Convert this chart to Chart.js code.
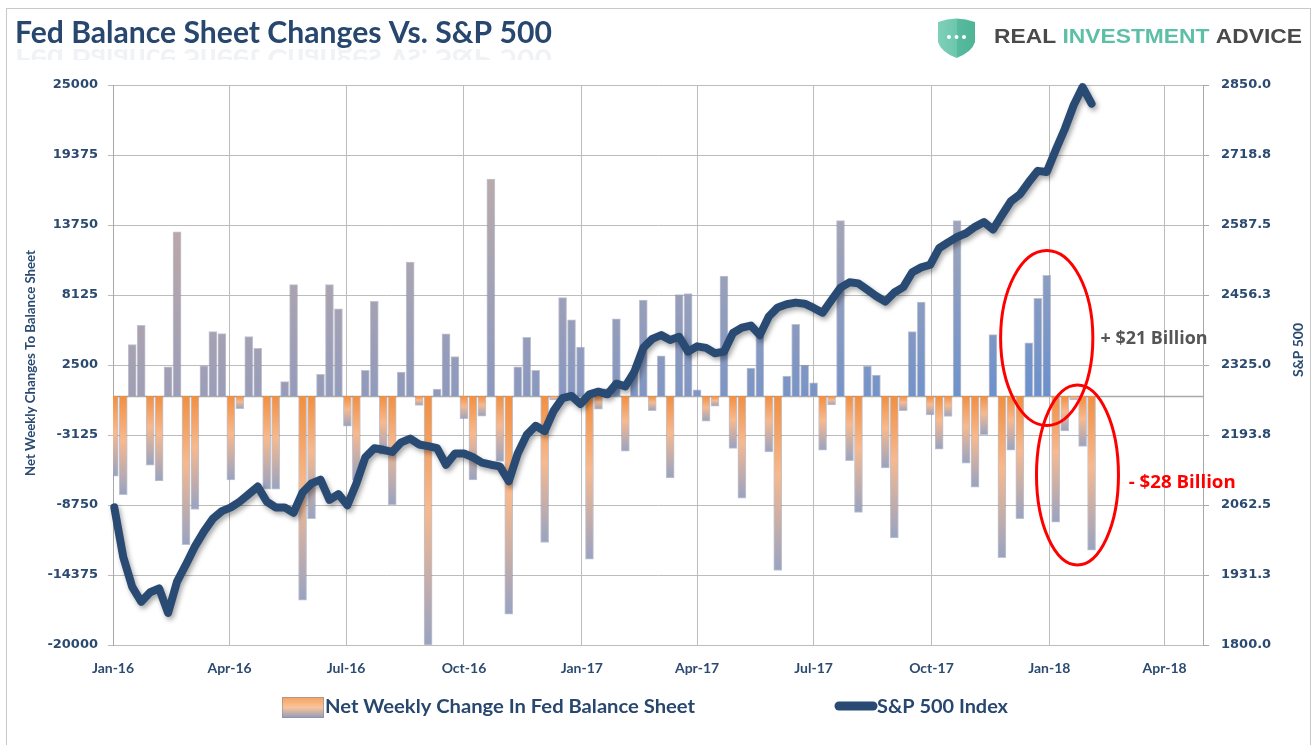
<!DOCTYPE html>
<html>
<head>
<meta charset="utf-8">
<title>Fed Balance Sheet Changes Vs. S&amp;P 500</title>
<script src="https://cdn.jsdelivr.net/npm/chart.js@4.4.1/dist/chart.umd.min.js"></script>
<style>
  html, body { margin: 0; padding: 0; background: #ffffff; }
  #wrap { width: 1315px; height: 745px; }
</style>
</head>
<body>
<div id="wrap"><canvas id="fedChart" width="1315" height="745"></canvas></div>
<script>
// Quarter ticks on the x axis (days counted from Jan 1, 2016)
const quarterLabels = ['Jan-16', 'Apr-16', 'Jul-16', 'Oct-16', 'Jan-17', 'Apr-17', 'Jul-17', 'Oct-17', 'Jan-18', 'Apr-18'];
const quarterDays = [0, 91, 182, 274, 366, 456, 547, 639, 731, 821];

// Net weekly change in the Fed balance sheet ($ millions), one value per week from Jan 2016
const netWeeklyChange = [
  -6430, -7920, 4140, 5680, -5540, -6820, 2350, 13210, -11930, -9110,
  2440, 5180, 5030, -6730, -1010, 4790, 3840, -7470, -7470, 1160,
  8960, -16400, -9850, 1760, 8960, 7020, -2410, -6730, 2080, 7620,
  -4670, -8720, 1930, 10770, -740, -20000, 570, 5000, 3180, -1820,
  -6730, -1610, 17440, -5240, -17530, 2350, 4730, 2080, -11760, -300,
  7920, 6130, 3930, -13100, -1040, 600, 6220, -4430, 2050, 7710,
  -1160, 3240, -6580, 8150, 8240, 500, -2020, -800, 9640, -4200,
  -8210, 2260, 4880, -4490, -14010, 1600, 5770, 2500, 1070, -4340,
  -710, 14100, -5180, -9340, 2410, 1700, -5770, -11400, -1160, 5180,
  7560, -1520, -4260, -1640, 14100, -5390, -7320, -3100, 4940, -12980,
  -4340, -9850, 4290, 7860, 9700, -10120, -2800, -300, -4050, -12380
];

// S&P 500 index, same weeks
const sp500Index = [
  2058, 1965, 1909, 1881, 1899, 1906, 1860, 1919, 1951, 1985,
  2013, 2037, 2051, 2058, 2069, 2083, 2097, 2069, 2058, 2058,
  2048, 2086, 2103, 2110, 2072, 2083, 2062, 2103, 2152, 2169,
  2166, 2162, 2180, 2187, 2176, 2173, 2169, 2138, 2159, 2159,
  2152, 2142, 2138, 2135, 2107, 2159, 2194, 2211, 2201, 2239,
  2263, 2267, 2252, 2270, 2275, 2270, 2290, 2285, 2312, 2357,
  2374, 2381, 2372, 2378, 2350, 2360, 2357, 2347, 2350, 2385,
  2395, 2399, 2381, 2416, 2433, 2439, 2442, 2440, 2432, 2423,
  2447, 2470, 2480, 2478, 2466, 2454, 2444, 2461, 2471, 2499,
  2508, 2513, 2544, 2555, 2565, 2572, 2584, 2593, 2579, 2606,
  2632, 2645, 2668, 2689, 2687, 2728, 2767, 2812, 2846, 2815
];

// weekly release dates as day offsets from Jan 1, 2016
const weekDays = netWeeklyChange.map((_, i) => 1 + 7 * i);

// callouts drawn on top of the chart, in data units (x: day, y: balance sheet value)
const callouts = {
  ellipses: [
    { x: 729, y: 4670, rx: 36, ry: 7030 },
    { x: 753, y: -6340, rx: 32, ry: 7230 }
  ],
  labels: [
    { text: '+ $21 Billion', x: 771, y: 4590, color: '#555555' },
    { text: '- $28 Billion', x: 793, y: -6980, color: '#ff0000' }
  ]
};

const navy = '#284a73';
const tickNavy = '#2b4a70';
const gridGray = '#bcbcbc';

function mix(a, b, t) {
  return a.map((c, i) => Math.round(c + (b[i] - c) * t));
}
function rgb(c) {
  return 'rgb(' + c[0] + ',' + c[1] + ',' + c[2] + ')';
}

// gradient fill for each bar: orange -> grey-blue below zero, mauve/blue above
function barFill(context) {
  const chart = context.chart;
  if (!chart.chartArea || context.type !== 'data' || !context.raw) return '#f2a064';
  const ys = chart.scales.y;
  const xs = chart.scales.x;
  const v = context.raw.y;
  const base = ys.getPixelForValue(0);
  if (v < 0) {
    const g = chart.ctx.createLinearGradient(0, base, 0, ys.getPixelForValue(v));
    g.addColorStop(0, '#f28f40');
    g.addColorStop(0.45, '#f7b98e');
    g.addColorStop(1, '#98a3c2');
    return g;
  }
  const t = (context.raw.x - xs.min) / (xs.max - xs.min);
  const g = chart.ctx.createLinearGradient(0, base, 0, ys.getPixelForValue(18000));
  g.addColorStop(0, rgb(mix([160, 158, 182], [96, 142, 210], t)));
  g.addColorStop(1, rgb(mix([200, 172, 160], [165, 168, 186], t)));
  return g;
}

// draw text squeezed/stretched to a given width
function fitText(c, text, x, y, width, font, color, align) {
  c.save();
  c.font = font;
  c.fillStyle = color;
  c.textBaseline = 'middle';
  const w = c.measureText(text).width;
  const s = width / w;
  const left = align === 'center' ? x - width / 2 : x;
  c.translate(left, y);
  c.scale(s, 1);
  c.textAlign = 'left';
  c.fillText(text, 0, 0);
  c.restore();
}

const zeroLine = {
  id: 'zeroLine',
  beforeDatasetsDraw(chart) {
    const c = chart.ctx;
    const y0 = Math.round(chart.scales.y.getPixelForValue(0)) + 0.5;
    c.save();
    c.strokeStyle = '#a9a9a9';
    c.lineWidth = 1.5;
    c.beginPath();
    c.moveTo(chart.chartArea.left, y0);
    c.lineTo(chart.chartArea.right, y0);
    c.stroke();
    c.restore();
  }
};

const lineShadow = {
  id: 'lineShadow',
  beforeDatasetDraw(chart, args) {
    if (args.meta.type !== 'line') return;
    const c = chart.ctx;
    c.save();
    c.shadowColor = 'rgba(0,0,0,0.35)';
    c.shadowBlur = 5;
    c.shadowOffsetX = 2;
    c.shadowOffsetY = 3;
  },
  afterDatasetDraw(chart, args) {
    if (args.meta.type === 'line') chart.ctx.restore();
  }
};

const decorations = {
  id: 'decorations',
  beforeDraw(chart) {
    const c = chart.ctx;
    c.save();
    c.fillStyle = '#ffffff';
    c.fillRect(0, 0, chart.width, chart.height);
    c.strokeStyle = '#c8c8c8';
    c.lineWidth = 1;
    c.strokeRect(6.5, 8.5, 1304, 745);
    c.restore();
  },
  afterDatasetsDraw(chart) {
    const c = chart.ctx;
    const xs = chart.scales.x;
    const ys = chart.scales.y;

    // red callout ellipses and their labels
    c.save();
    c.strokeStyle = '#ff0000';
    c.lineWidth = 3;
    callouts.ellipses.forEach(e => {
      const cx = xs.getPixelForValue(e.x);
      const cy = ys.getPixelForValue(e.y);
      const rx = Math.abs(xs.getPixelForValue(e.x + e.rx) - cx);
      const ry = Math.abs(ys.getPixelForValue(e.y + e.ry) - cy);
      c.beginPath();
      c.ellipse(cx, cy, rx, ry, 0, 0, Math.PI * 2);
      c.stroke();
    });
    callouts.labels.forEach(l => {
      fitText(c, l.text, xs.getPixelForValue(l.x), ys.getPixelForValue(l.y), 107, 'bold 17px "Open Sans"', l.color, 'left');
    });
    c.restore();
  },
  afterDraw(chart) {
    const c = chart.ctx;
    const area = chart.chartArea;

    // title with a faint reflection
    const title = 'Fed Balance Sheet Changes Vs. S&P 500';
    fitText(c, title, 15, 33, 537, 'bold 30px Lato', '#27476e', 'left');
    c.save();
    c.beginPath();
    c.rect(0, 46, 600, 14);
    c.clip();
    c.translate(0, 92);
    c.scale(1, -1);
    c.globalAlpha = 0.07;
    fitText(c, title, 15, 33, 537, 'bold 30px Lato', '#27476e', 'left');
    c.restore();

    // logo
    c.save();
    const sg = c.createLinearGradient(938, 0, 975, 0);
    sg.addColorStop(0, '#7fd0b8');
    sg.addColorStop(0.5, '#6cc7ad');
    sg.addColorStop(0.5, '#58bb9f');
    sg.addColorStop(1, '#4fb396');
    c.fillStyle = sg;
    c.beginPath();
    c.moveTo(938, 22);
    c.quadraticCurveTo(956.5, 15, 975, 22);
    c.lineTo(975, 42);
    c.quadraticCurveTo(972, 52, 956.5, 58);
    c.quadraticCurveTo(941, 52, 938, 42);
    c.closePath();
    c.fill();
    c.fillStyle = '#ffffff';
    [949, 956.5, 964].forEach(dx => {
      c.beginPath();
      c.arc(dx, 37, 2, 0, Math.PI * 2);
      c.fill();
    });
    c.restore();
    const logoParts = [['REAL ', '#4a4a4a'], ['INVESTMENT ', '#5dbfa6'], ['ADVICE', '#4a4a4a']];
    c.save();
    c.font = 'bold 20px "Liberation Sans"';
    const full = logoParts.map(p => p[0]).join('');
    const s = 308 / c.measureText(full).width;
    c.translate(994, 37);
    c.scale(s, 1);
    c.textBaseline = 'middle';
    let lx = 0;
    logoParts.forEach(p => {
      c.fillStyle = p[1];
      c.fillText(p[0], lx, 0);
      lx += c.measureText(p[0]).width;
    });
    c.restore();

    // axis titles
    c.save();
    c.translate(30, (area.top + area.bottom) / 2 - 2);
    c.rotate(-Math.PI / 2);
    fitText(c, 'Net Weekly Changes To Balance Sheet', 0, 0, 226, 'bold 14px Lato', tickNavy, 'center');
    c.restore();
    c.save();
    c.translate(1298, (area.top + area.bottom) / 2 - 15);
    c.rotate(-Math.PI / 2);
    fitText(c, 'S&P 500', 0, 0, 54, 'bold 14px Lato', tickNavy, 'center');
    c.restore();

    // legend
    c.save();
    const lg = c.createLinearGradient(0, 697, 0, 718);
    lg.addColorStop(0, '#f4a25e');
    lg.addColorStop(0.5, '#f9c49a');
    lg.addColorStop(1, '#8e9cbc');
    c.fillStyle = lg;
    c.fillRect(282, 697, 42, 21);
    c.strokeStyle = 'rgba(140,140,160,0.6)';
    c.strokeRect(282.5, 697.5, 41, 20);
    c.strokeStyle = navy;
    c.lineWidth = 9;
    c.lineCap = 'round';
    c.beginPath();
    c.moveTo(839, 706);
    c.lineTo(873, 706);
    c.stroke();
    c.restore();
    fitText(c, 'Net Weekly Change In Fed Balance Sheet', 325, 707, 370, 'bold 19px Lato', '#27476e', 'left');
    fitText(c, 'S&P 500 Index', 877, 707, 131, 'bold 19px Lato', '#27476e', 'left');
  }
};

new Chart(document.getElementById('fedChart'), {
  type: 'bar',
  data: {
    datasets: [
      {
        type: 'line',
        label: 'S&P 500 Index',
        data: sp500Index.map((v, i) => ({ x: weekDays[i], y: v })),
        yAxisID: 'y1',
        borderColor: navy,
        borderWidth: 8,
        pointRadius: 0,
        tension: 0,
        borderJoinStyle: 'round',
        borderCapStyle: 'round',
        order: 0,
        clip: 8
      },
      {
        type: 'bar',
        label: 'Net Weekly Change In Fed Balance Sheet',
        data: netWeeklyChange.map((v, i) => ({ x: weekDays[i], y: v })),
        yAxisID: 'y',
        backgroundColor: barFill,
        borderColor: 'rgba(118,122,148,0.45)',
        borderWidth: 1,
        barThickness: 8,
        order: 1,
        clip: 0
      }
    ]
  },
  options: {
    responsive: false,
    animation: false,
    devicePixelRatio: 1,
    layout: { padding: { top: 85, left: 0, right: 0, bottom: 0 } },
    plugins: {
      legend: { display: false },
      tooltip: { enabled: false }
    },
    scales: {
      x: {
        type: 'linear',
        min: 0,
        max: 851,
        offset: false,
        afterBuildTicks: (scale) => { scale.ticks = quarterDays.map(d => ({ value: d })); },
        afterFit: (scale) => { scale.height = 100; },
        ticks: {
          autoSkip: false,
          maxRotation: 0,
          padding: 15,
          color: tickNavy,
          font: { family: 'Lato', weight: 'bold', size: 14 },
          callback: (value, index) => quarterLabels[index]
        },
        grid: { color: gridGray, lineWidth: 1, drawTicks: false, offset: false },
        border: { display: true, color: gridGray }
      },
      y: {
        position: 'left',
        min: -20000,
        max: 25000,
        afterFit: (scale) => { scale.width = 113; },
        ticks: {
          stepSize: 5625,
          padding: 10,
          color: tickNavy,
          font: { family: 'DejaVu Sans', weight: 'bold', size: 13 },
          callback: (value) => String(value)
        },
        grid: { color: gridGray, lineWidth: 1, tickLength: 5 },
        border: { display: true, color: '#a8a8a8' }
      },
      y1: {
        position: 'right',
        min: 1800,
        max: 2850,
        afterFit: (scale) => { scale.width = 112; },
        ticks: {
          stepSize: 131.25,
          padding: 12,
          color: tickNavy,
          font: { family: 'DejaVu Sans', weight: 'bold', size: 13 },
          callback: (value) => value.toFixed(1)
        },
        grid: { drawOnChartArea: false, color: '#a8a8a8', tickLength: 6 },
        border: { display: true, color: '#a8a8a8' }
      }
    }
  },
  plugins: [decorations, zeroLine, lineShadow]
});
</script>
</body>
</html>
